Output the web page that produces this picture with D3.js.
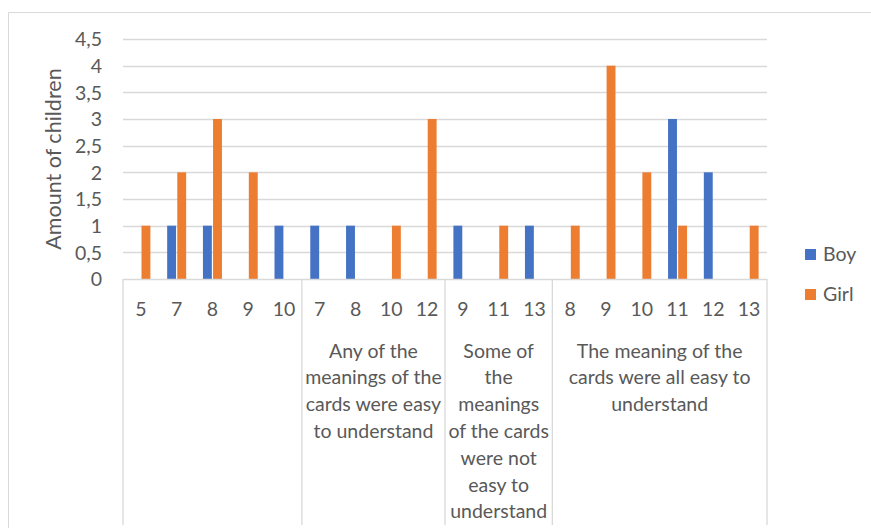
<!DOCTYPE html>
<html>
<head>
<meta charset="utf-8">
<script src="https://cdn.jsdelivr.net/npm/d3@7"></script>
<style>
  html, body { margin: 0; padding: 0; background: #fff; }
  svg { display: block; font-family: Lato, "Open Sans", sans-serif; }
</style>
</head>
<body>
<svg id="chart" width="871" height="528"></svg>
<script>
// Age groups under each answer category
const groups = [
  "",
  "Any of the meanings of the cards were easy to understand",
  "Some of the meanings of the cards were not easy to understand",
  "The meaning of the cards were all easy to understand"
];
const groupLines = [
  [],
  ["Any of the", "meanings of the", "cards were easy", "to understand"],
  ["Some of", "the", "meanings", "of the cards", "were not", "easy to", "understand"],
  ["The meaning of the", "cards were all easy to", "understand"]
];
const ages = [
  ["5", "7", "8", "9", "10"],
  ["7", "8", "10", "12"],
  ["9", "11", "13"],
  ["8", "9", "10", "11", "12", "13"]
];
const boy = [
  [0, 1, 1, 0, 1],
  [1, 1, 0, 0],
  [1, 0, 1],
  [0, 0, 0, 3, 2, 0]
];
const girl = [
  [1, 2, 3, 2, 0],
  [0, 0, 1, 3],
  [0, 1, 0],
  [1, 4, 2, 1, 0, 1]
];
const series = ["Boy", "Girl"];
const colors = ["#4472C4", "#ED7D31"];
const yTicks = [0, 0.5, 1, 1.5, 2, 2.5, 3, 3.5, 4, 4.5];

const textColor = "#595959";
const lineColor = "#D9D9D9";
const labelSize = "19.5px";

// flatten into one row per category slot
const rows = [];
ages.forEach((list, g) => list.forEach((a, i) => {
  rows.push({ key: g + "-" + i, group: g, age: a, values: [boy[g][i], girl[g][i]] });
}));

const svg = d3.select("#chart");

// chart-area border
svg.append("path")
  .attr("d", "M8.5,528 V12.5 H871")
  .attr("fill", "none").attr("stroke", lineColor).attr("stroke-width", 1);

const plot = { left: 123, right: 767, top: 39, bottom: 279 };

const x = d3.scaleBand().domain(rows.map(r => r.key))
  .range([plot.left, plot.right]).paddingInner(0).paddingOuter(0);
const y = d3.scaleLinear().domain([0, 4.5]).range([plot.bottom, plot.top]);
const xs = d3.scaleBand().domain(series).range([-9.5, 9.5]).paddingInner(0.12).paddingOuter(0);

// gridlines
svg.append("g").selectAll("line").data(yTicks.filter(v => v > 0)).join("line")
  .attr("x1", plot.left).attr("x2", plot.right)
  .attr("y1", d => Math.round(y(d)) + 0.5).attr("y2", d => Math.round(y(d)) + 0.5)
  .attr("stroke", lineColor).attr("stroke-width", 1.3);

// y axis labels
const yAxis = d3.axisLeft(y).tickValues(yTicks).tickSize(0).tickPadding(0)
  .tickFormat(d => String(d).replace(".", ","));
const yg = svg.append("g").attr("transform", `translate(${plot.left - 21},0)`).call(yAxis);
yg.select(".domain").remove();
yg.selectAll("text").attr("fill", textColor).style("font-size", labelSize)
  .style("font-family", "Lato, sans-serif").attr("dy", "0.35em");

// y axis title
svg.append("text")
  .attr("transform", `translate(61,${(plot.top + plot.bottom) / 2}) rotate(-90)`)
  .attr("text-anchor", "middle").attr("fill", textColor)
  .style("font-size", "21.5px").text("Amount of children");

// bars
const cat = svg.append("g").selectAll("g").data(rows).join("g")
  .attr("transform", d => `translate(${x(d.key) + x.bandwidth() / 2},0)`);
cat.selectAll("rect").data(d => d.values.map((v, i) => ({ v, s: series[i], i })))
  .join("rect")
  .attr("x", d => xs(d.s)).attr("width", xs.bandwidth())
  .attr("y", d => y(d.v)).attr("height", d => y(0) - y(d.v))
  .attr("fill", d => colors[d.i]);

// category axis line
svg.append("line")
  .attr("x1", plot.left).attr("x2", plot.right)
  .attr("y1", plot.bottom + 0.5).attr("y2", plot.bottom + 0.5)
  .attr("stroke", lineColor).attr("stroke-width", 1.3);

// group separators
const bounds = [0];
ages.forEach((l, g) => bounds.push(bounds[g] + l.length));
svg.append("g").selectAll("line").data(bounds).join("line")
  .attr("x1", d => d === rows.length ? plot.right : x(rows[d].key))
  .attr("x2", d => d === rows.length ? plot.right : x(rows[d].key))
  .attr("y1", plot.bottom).attr("y2", 525)
  .attr("stroke", lineColor).attr("stroke-width", 1.3);

// age labels
svg.append("g").selectAll("text").data(rows).join("text")
  .attr("x", d => x(d.key) + x.bandwidth() / 2).attr("y", 315.5)
  .attr("text-anchor", "middle").attr("fill", textColor)
  .style("font-size", labelSize).text(d => d.age);

// group labels
groups.forEach((g, gi) => {
  const x0 = x(rows[bounds[gi]].key);
  const x1 = bounds[gi + 1] === rows.length ? plot.right : x(rows[bounds[gi + 1]].key);
  svg.append("text")
    .attr("x", (x0 + x1) / 2).attr("y", 357.5)
    .attr("text-anchor", "middle").attr("fill", textColor)
    .style("font-size", labelSize)
    .selectAll("tspan").data(groupLines[gi]).join("tspan")
    .attr("x", (x0 + x1) / 2).attr("dy", (d, i) => i === 0 ? 0 : 26.8)
    .text(d => d);
});

// legend
const lg = svg.append("g").selectAll("g").data(series).join("g")
  .attr("transform", (d, i) => `translate(805,${249 + i * 40})`);
lg.append("rect").attr("width", 11).attr("height", 11).attr("fill", (d, i) => colors[i]);
lg.append("text").attr("x", 18).attr("y", 12).attr("fill", textColor)
  .style("font-size", labelSize).text(d => d);
</script>
</body>
</html>
